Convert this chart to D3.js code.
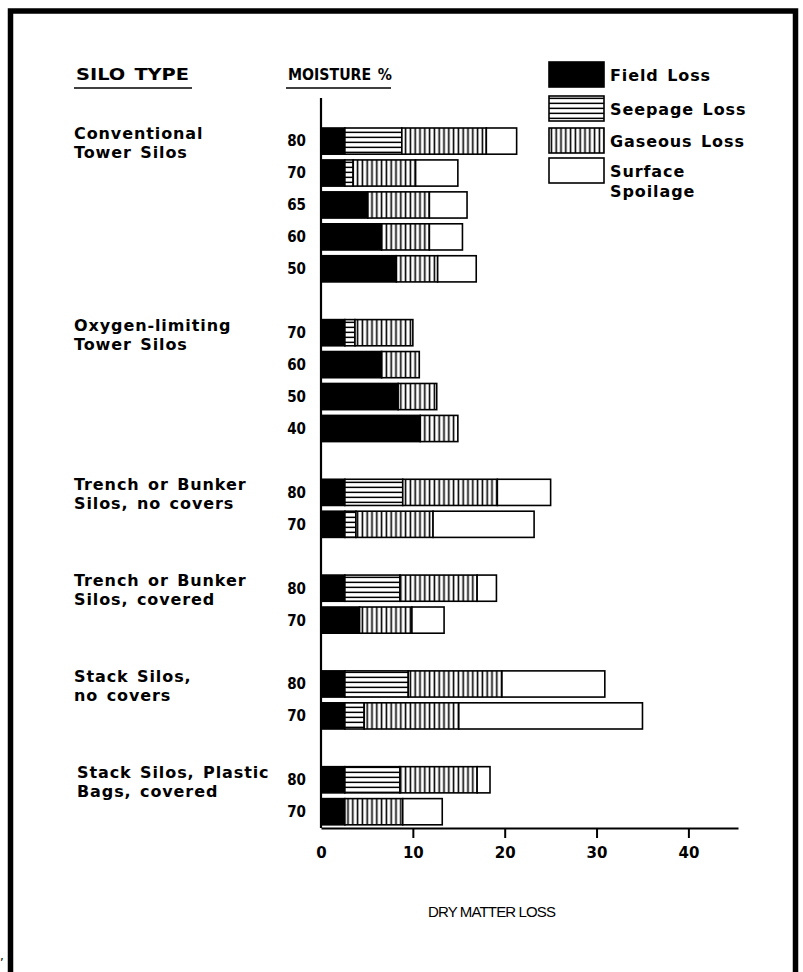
<!DOCTYPE html>
<html>
<head>
<meta charset="utf-8">
<script src="https://cdn.jsdelivr.net/npm/d3@7"></script>
<style>
  body { margin: 0; background: #fff; }
  text { font-family: "DejaVu Sans", sans-serif; fill: #000; }
  .lbl { font-size: 16px; font-weight: 700; letter-spacing: 0.9px; word-spacing: 2px; }
</style>
</head>
<body>
<svg id="chart" width="803" height="972"></svg>
<script>
// rows of the chart, top to bottom; blank ids are the gaps between silo types
const rowIds = ["c80","c70","c65","c60","c50","g1","o70","o60","o50","o40","g2",
  "tn80","tn70","g3","tc80","tc70","g4","sn80","sn70","g5","sp80","sp70"];
const moisture = ["80","70","65","60","50","","70","60","50","40","",
  "80","70","","80","70","","80","70","","80","70"];

// silo type labels: [first row of group, line 1, line 2]
const groupLabels = [
  ["c80", "Conventional", "Tower Silos"],
  ["o70", "Oxygen-limiting", "Tower Silos"],
  ["tn80", "Trench or Bunker", "Silos, no covers"],
  ["tc80", "Trench or Bunker", "Silos, covered"],
  ["sn80", "Stack Silos,", "no covers"],
  ["sp80", "Stack Silos, Plastic", "Bags, covered"]
];

const seriesNames = ["Field Loss", "Seepage Loss", "Gaseous Loss", "Surface Spoilage"];
// % dry matter lost, per row (null for gap rows)
const fieldLoss   = [2.6,2.6,5.1,6.6,8.2,null,2.6,6.6,8.4,10.8,null,2.6,2.6,null,2.6,4.2,null,2.6,2.6,null,2.6,2.6];
const seepageLoss = [6.2,0.9,0,0,0,null,1.1,0,0,0,null,6.3,1.2,null,6.0,0,null,6.9,2.1,null,6.0,0];
const gaseousLoss = [9.2,6.8,6.7,5.2,4.5,null,6.3,4.1,4.2,4.1,null,10.3,8.4,null,8.4,5.7,null,10.2,10.3,null,8.4,6.3];
const surfaceLoss = [3.3,4.6,4.1,3.6,4.2,null,0,0,0,0,null,5.8,11.0,null,2.1,3.5,null,11.2,20.0,null,1.4,4.3];
const xTicks = [0, 10, 20, 30, 40];

const svg = d3.select("#chart");

// frame
svg.append("rect")
  .attr("x", 10.5).attr("y", 11)
  .attr("width", 785).attr("height", 1000)
  .attr("fill", "none").attr("stroke", "#000").attr("stroke-width", 5.5);

// hatch patterns
const defs = svg.append("defs");
const hp = defs.append("pattern").attr("id", "hz")
  .attr("patternUnits", "userSpaceOnUse").attr("width", 6).attr("height", 5);
hp.append("rect").attr("width", 6).attr("height", 5).attr("fill", "#fff");
hp.append("rect").attr("y", 1.6).attr("width", 6).attr("height", 1.5).attr("fill", "#000");
const vp = defs.append("pattern").attr("id", "vt")
  .attr("patternUnits", "userSpaceOnUse").attr("width", 4.8).attr("height", 6);
vp.append("rect").attr("width", 4.8).attr("height", 6).attr("fill", "#fff");
vp.append("rect").attr("x", 1.6).attr("width", 1.6).attr("height", 6).attr("fill", "#000");

const fills = ["#000", "url(#hz)", "url(#vt)", "#fff"];

const x = d3.scaleLinear().domain([0, 45.4]).range([321, 738]);
const y = d3.scaleBand().domain(rowIds).range([124.8, 828]).paddingInner(0.18).paddingOuter(0.1);

const table = rowIds.map((id, i) => ({
  id, moist: moisture[i],
  f: fieldLoss[i], s: seepageLoss[i], g: gaseousLoss[i], u: surfaceLoss[i]
})).filter(d => d.f !== null);

const stacked = d3.stack().keys(["f", "s", "g", "u"])(table);

stacked.forEach((layer, k) => {
  svg.append("g").selectAll("rect")
    .data(layer.filter(d => d[1] - d[0] > 0))
    .join("rect")
      .attr("x", d => x(d[0]))
      .attr("y", d => y(d.data.id))
      .attr("width", d => x(d[1]) - x(d[0]))
      .attr("height", y.bandwidth())
      .attr("fill", fills[k])
      .attr("stroke", "#000")
      .attr("stroke-width", 1.6);
});

// moisture labels
svg.append("g").selectAll("text")
  .data(table)
  .join("text")
    .attr("x", 306)
    .attr("y", d => y(d.id) + y.bandwidth() / 2)
    .attr("dy", "0.36em")
    .attr("text-anchor", "end")
    .attr("font-size", 15).attr("font-weight", 700)
    .style("font-family", "DejaVu Sans Condensed, DejaVu Sans, sans-serif")
    .text(d => d.moist);

// silo type labels
const gl = svg.append("g").selectAll("g")
  .data(groupLabels)
  .join("g")
    .attr("transform", d => `translate(${d[0] === "sp80" ? 77 : 74},${y(d[0]) + 11})`);
gl.append("text").attr("class", "lbl").text(d => d[1]);
gl.append("text").attr("class", "lbl").attr("y", 19).text(d => d[2]);

// y axis line
svg.append("line")
  .attr("x1", 321).attr("x2", 321).attr("y1", 98).attr("y2", 828)
  .attr("stroke", "#000").attr("stroke-width", 2.2);

// x axis
const xAxis = svg.append("g")
  .attr("transform", "translate(0,828)")
  .call(d3.axisBottom(x).tickValues(xTicks).tickSize(10).tickSizeOuter(0).tickPadding(9));
xAxis.select(".domain").attr("stroke-width", 2.2);
xAxis.selectAll(".tick line").attr("stroke-width", 2).attr("opacity", (d) => d === 0 ? 0 : 1);
xAxis.selectAll(".tick text")
  .attr("font-family", "DejaVu Sans Condensed, DejaVu Sans, sans-serif")
  .attr("font-size", 15).attr("font-weight", 700);

svg.append("text")
  .attr("x", 492).attr("y", 917)
  .attr("text-anchor", "middle")
  .style("font-family", "Liberation Sans, Arial, sans-serif")
  .attr("font-size", 15)
  .attr("textLength", 128)
  .text("DRY MATTER LOSS");

// column headers: text, x, underline width, text length
const headers = [["SILO TYPE", 76, 118, 113], ["MOISTURE %", 288, 105, 104]];
headers.forEach(([t, hx, w, tl]) => {
  svg.append("text").attr("class", "lbl").attr("x", hx).attr("y", 80)
    .style("letter-spacing", "0px")
    .attr("textLength", tl).attr("lengthAdjust", "spacingAndGlyphs").text(t);
  svg.append("line").attr("x1", hx - 2).attr("x2", hx - 2 + w)
    .attr("y1", 88).attr("y2", 88).attr("stroke", "#000").attr("stroke-width", 1.5);
});

// legend
const legendY = [62, 96, 128, 158];
const lg = svg.append("g").selectAll("g")
  .data(seriesNames)
  .join("g")
    .attr("transform", (d, i) => `translate(549,${legendY[i]})`);
lg.append("rect")
  .attr("width", 55).attr("height", 25)
  .attr("fill", (d, i) => fills[i])
  .attr("stroke", "#000").attr("stroke-width", 1.6);
lg.append("text")
  .attr("class", "lbl")
  .attr("x", 61).attr("y", 13).attr("dy", "0.36em")
  .text(d => d === "Surface Spoilage" ? "Surface" : d);
lg.filter(d => d === "Surface Spoilage").append("text")
  .attr("class", "lbl")
  .attr("x", 61).attr("y", 33).attr("dy", "0.36em")
  .text("Spoilage");

svg.append("text").attr("x", 0).attr("y", 960).attr("font-size", 12).text(",");
</script>
</body>
</html>
